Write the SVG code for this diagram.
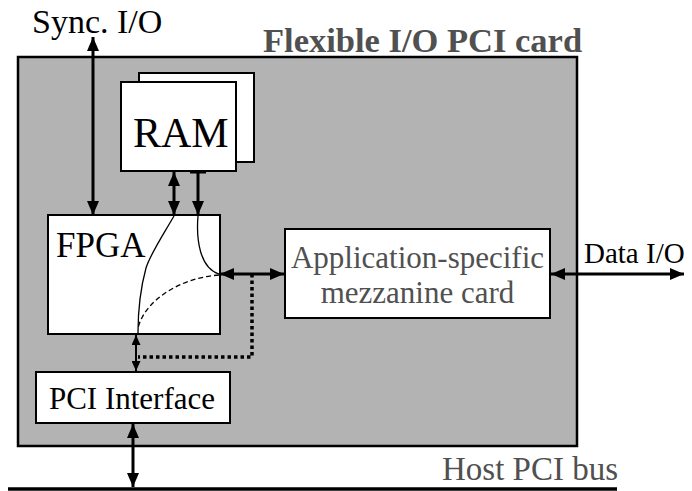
<svg xmlns="http://www.w3.org/2000/svg" width="692" height="491" viewBox="0 0 692 491">
<style>
  .box { fill: #fff; stroke: #000; stroke-width: 2; }
  .t { font-family: "Liberation Serif", "Times New Roman", serif; fill: #000; }
  .g { fill: #505050; }
  .wire { stroke: #000; stroke-width: 3; fill: none; }
  .thin { stroke: #000; stroke-width: 1.3; fill: none; }
</style>
<defs>
  <marker id="ah" viewBox="0 0 14 12" refX="14" refY="6" markerWidth="14" markerHeight="12" markerUnits="userSpaceOnUse" orient="auto-start-reverse">
    <path d="M0,0 L14,6 L0,12 Z" fill="#000"/>
  </marker>
  <marker id="ahs" viewBox="0 0 10 9" refX="10" refY="4.5" markerWidth="10" markerHeight="9" markerUnits="userSpaceOnUse" orient="auto-start-reverse">
    <path d="M0,0 L10,4.5 L0,9 Z" fill="#000"/>
  </marker>
</defs>

<g id="card">
  <rect x="18" y="57" width="559" height="389" fill="#b3b3b3" stroke="#000" stroke-width="2.5"/>
  <text class="t g" x="263" y="52" font-size="34.5" font-weight="bold">Flexible I/O PCI card</text>
</g>

<g id="ram">
  <rect class="box" x="139" y="73" width="115" height="89"/>
  <rect class="box" x="121" y="82" width="115" height="89"/>
  <text class="t" x="133" y="147" font-size="42">RAM</text>
</g>

<g id="fpga">
  <rect class="box" x="48" y="215" width="172" height="119"/>
  <text class="t" x="56" y="257" font-size="35">FPGA</text>
</g>

<g id="mezzanine">
  <rect class="box" x="285" y="229" width="265" height="89"/>
  <text class="t g" x="417.5" y="268" font-size="31" text-anchor="middle">Application-specific</text>
  <text class="t g" x="417.5" y="303" font-size="31" text-anchor="middle">mezzanine card</text>
</g>

<g id="pci-interface">
  <rect class="box" x="36" y="372" width="194" height="51"/>
  <text class="t" x="132" y="409" font-size="31" text-anchor="middle">PCI Interface</text>
</g>

<g id="labels">
  <text class="t" x="32" y="33" font-size="34">Sync. I/O</text>
  <text class="t" x="584" y="263" font-size="29">Data I/O</text>
  <text class="t g" x="442" y="480" font-size="33">Host PCI bus</text>
</g>

<g id="connectors">
  <!-- external sync line into the FPGA -->
  <line class="wire" x1="93" y1="37" x2="93" y2="215" marker-start="url(#ah)" marker-end="url(#ah)"/>
  <!-- RAM to FPGA buses -->
  <line class="wire" x1="174" y1="172" x2="174" y2="215" marker-start="url(#ah)" marker-end="url(#ah)"/>
  <line class="wire" x1="198" y1="172" x2="198" y2="215" marker-end="url(#ah)"/>
  <line class="wire" x1="190" y1="172" x2="206" y2="172"/>
  <!-- routing inside the FPGA -->
  <path class="thin" d="M174,216 C160,240 150,255 146,268 C140,290 138,315 138,333"/>
  <path class="thin" d="M198,216 C196,240 200,268 219,274"/>
  <path class="thin" d="M219,275 C180,278 145,300 138,328" stroke-dasharray="5,3"/>
  <!-- FPGA to mezzanine -->
  <line class="wire" x1="220" y1="274" x2="284" y2="274" marker-start="url(#ah)" marker-end="url(#ah)"/>
  <!-- dotted bypass to PCI side -->
  <polyline points="252,274 252,357 138,357" fill="none" stroke="#000" stroke-width="3.5" stroke-dasharray="3.5,3"/>
  <!-- FPGA to PCI interface -->
  <line stroke="#000" stroke-width="2" x1="136" y1="335" x2="136" y2="371" marker-start="url(#ahs)" marker-end="url(#ahs)"/>
  <!-- mezzanine data I/O -->
  <line class="wire" x1="551" y1="274" x2="684" y2="274" marker-start="url(#ah)" marker-end="url(#ah)"/>
  <!-- PCI interface to host bus -->
  <line class="wire" x1="133" y1="424" x2="133" y2="487" marker-start="url(#ah)" marker-end="url(#ah)"/>
  <!-- host bus -->
  <line stroke="#000" stroke-width="3.5" x1="8" y1="489" x2="617" y2="489"/>
</g>
</svg>
